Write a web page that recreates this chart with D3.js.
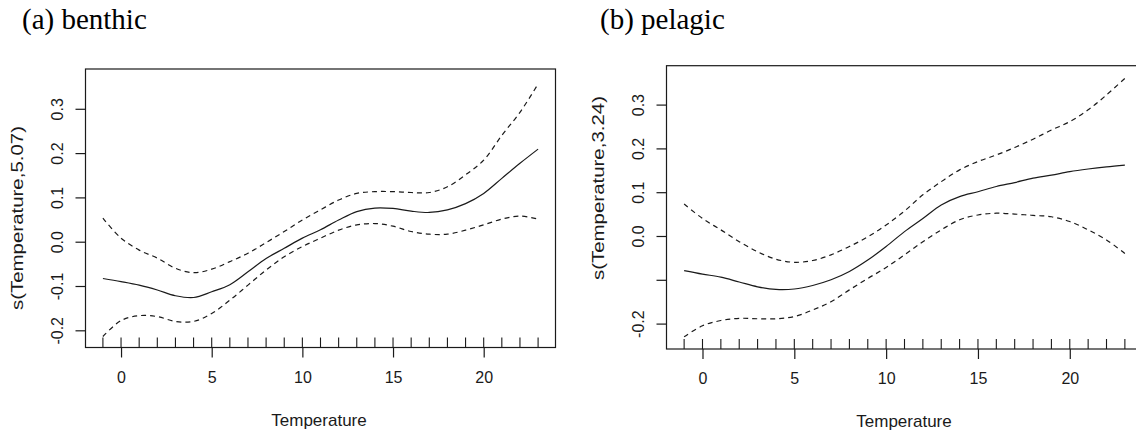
<!DOCTYPE html>
<html>
<head>
<meta charset="utf-8">
<script src="https://cdn.jsdelivr.net/npm/d3@7"></script>
<style>
  html, body { margin: 0; padding: 0; background: #fff; }
  svg { display: block; }
</style>
</head>
<body>
<svg id="chart" width="1136" height="434"></svg>
<script>
// ---- data ----
const temperature = [-1,0,1,2,3,4,5,6,7,8,9,10,11,12,13,14,15,16,17,18,19,20,21,22,23];
const rugTemps = [-1,0,1,2,3,4,5,6,7,8,9,10,11,12,13,14,15,16,17,18,19,20,21,22,23];

const benthicFit   = [-0.083,-0.090,-0.098,-0.109,-0.122,-0.126,-0.113,-0.097,-0.068,-0.038,-0.015,0.008,0.027,0.049,0.068,0.076,0.075,0.069,0.066,0.072,0.086,0.109,0.143,0.177,0.209];
const benthicUpper = [0.053,0.008,-0.019,-0.037,-0.060,-0.070,-0.062,-0.045,-0.026,-0.002,0.023,0.049,0.072,0.094,0.109,0.113,0.113,0.111,0.111,0.124,0.151,0.184,0.240,0.292,0.356];
const benthicLower = [-0.214,-0.178,-0.167,-0.169,-0.180,-0.180,-0.162,-0.132,-0.098,-0.064,-0.034,-0.011,0.008,0.026,0.038,0.041,0.035,0.023,0.017,0.017,0.026,0.038,0.051,0.058,0.051];

const pelagicFit   = [-0.079,-0.087,-0.094,-0.105,-0.116,-0.122,-0.121,-0.113,-0.100,-0.081,-0.055,-0.024,0.010,0.040,0.071,0.090,0.101,0.113,0.122,0.132,0.139,0.147,0.153,0.158,0.162];
const pelagicUpper = [0.073,0.040,0.014,-0.013,-0.036,-0.053,-0.060,-0.056,-0.043,-0.024,-0.002,0.025,0.057,0.094,0.124,0.151,0.170,0.185,0.202,0.221,0.242,0.261,0.288,0.322,0.360];
const pelagicLower = [-0.230,-0.205,-0.193,-0.188,-0.189,-0.189,-0.184,-0.169,-0.150,-0.123,-0.097,-0.072,-0.043,-0.013,0.014,0.037,0.048,0.052,0.050,0.047,0.044,0.033,0.014,-0.009,-0.040];

const xTicks = [0,5,10,15,20];
const yTicks = [-0.2,-0.1,0.0,0.1,0.2,0.3];
const benthicYTickLabels = ["-0.2","-0.1","0.0","0.1","0.2","0.3"];
const pelagicYTickLabels = ["-0.2","","0.0","0.1","0.2","0.3"];

const titles = ["(a) benthic", "(b) pelagic"];
const yLabels = ["s(Temperature,5.07)", "s(Temperature,3.24)"];
const xLabel = "Temperature";

// ---- layout ----
const panels = [
  { title: titles[0], ylab: yLabels[0], fit: benthicFit, upper: benthicUpper, lower: benthicLower,
    yTickLabels: benthicYTickLabels,
    xDomain: [-1.96, 23.96], xRange: [85.5, 555.5],
    yDomain: [-0.2388, 0.3898], yRange: [347.5, 69],
    titleX: 22, xlabX: 319, ylabY: 218 },
  { title: titles[1], ylab: yLabels[1], fit: pelagicFit, upper: pelagicUpper, lower: pelagicLower,
    yTickLabels: pelagicYTickLabels,
    xDomain: [-1.96, 23.96], xRange: [666.5, 1142.5],
    yDomain: [-0.258, 0.3888], yRange: [349, 65.7],
    titleX: 600, xlabX: 904, ylabY: 188 }
];

const svg = d3.select("#chart");
const ink = "#1a1a1a";
const sans = "'Liberation Sans', Arial, sans-serif";

panels.forEach(p => {
  const x = d3.scaleLinear().domain(p.xDomain).range(p.xRange);
  const y = d3.scaleLinear().domain(p.yDomain).range(p.yRange);
  const g = svg.append("g");

  // title
  svg.append("text")
    .attr("x", p.titleX).attr("y", 29)
    .attr("font-family", "'Liberation Serif', 'Times New Roman', serif")
    .attr("font-size", 29).attr("fill", "#000")
    .text(p.title);

  const [x0, x1] = p.xRange;
  const [yb, yt] = p.yRange;

  // box
  g.append("rect")
    .attr("x", x0).attr("y", yt)
    .attr("width", x1 - x0).attr("height", yb - yt)
    .attr("fill", "none").attr("stroke", ink).attr("stroke-width", 1.2);

  // x axis ticks (outward)
  const xAxis = d3.axisBottom(x).tickValues(xTicks).tickSize(10).tickPadding(14).tickFormat(d3.format("d"));
  const xa = g.append("g").attr("transform", `translate(0,${yb})`).call(xAxis);
  xa.select(".domain").remove();
  xa.selectAll(".tick line").attr("stroke", ink).attr("stroke-width", 1.2);
  xa.selectAll(".tick text").attr("font-family", sans).attr("font-size", 16).attr("fill", ink);

  // y axis ticks (outward), rotated labels
  const yAxis = d3.axisLeft(y).tickValues(yTicks).tickSize(10)
    .tickFormat((d, i) => p.yTickLabels[i]);
  const ya = g.append("g").attr("transform", `translate(${x0},0)`).call(yAxis);
  ya.select(".domain").remove();
  ya.selectAll(".tick line").attr("stroke", ink).attr("stroke-width", 1.2);
  ya.selectAll(".tick text")
    .attr("font-family", sans).attr("font-size", 16).attr("fill", ink)
    .attr("x", null).attr("dy", null)
    .attr("text-anchor", "middle")
    .attr("transform", "translate(-23,0) rotate(-90)");

  // rug
  g.append("g").selectAll("line").data(rugTemps).join("line")
    .attr("x1", d => x(d)).attr("x2", d => x(d))
    .attr("y1", yb).attr("y2", yb - 10)
    .attr("stroke", ink).attr("stroke-width", 1.1);

  // x label
  g.append("text")
    .attr("x", p.xlabX)
    .attr("y", yb + 78)
    .attr("text-anchor", "middle")
    .attr("font-family", sans).attr("font-size", 17).attr("fill", ink)
    .text(xLabel);

  // y label
  g.append("text")
    .attr("transform", `translate(${x0 - 63},${p.ylabY}) rotate(-90)`)
    .attr("text-anchor", "middle")
    .attr("font-family", sans).attr("font-size", 17).attr("fill", ink)
    .attr("textLength", 184).attr("lengthAdjust", "spacingAndGlyphs")
    .text(p.ylab);

  // curves
  const line = d3.line()
    .x((d, i) => x(temperature[i]))
    .y(d => y(d))
    .curve(d3.curveCatmullRom.alpha(0.5));

  g.append("path").datum(p.fit).attr("d", line)
    .attr("fill", "none").attr("stroke", ink).attr("stroke-width", 1.2);
  [p.upper, p.lower].forEach(s => {
    g.append("path").datum(s).attr("d", line)
      .attr("fill", "none").attr("stroke", ink).attr("stroke-width", 1.2)
      .attr("stroke-dasharray", "5,4");
  });
});
</script>
</body>
</html>
